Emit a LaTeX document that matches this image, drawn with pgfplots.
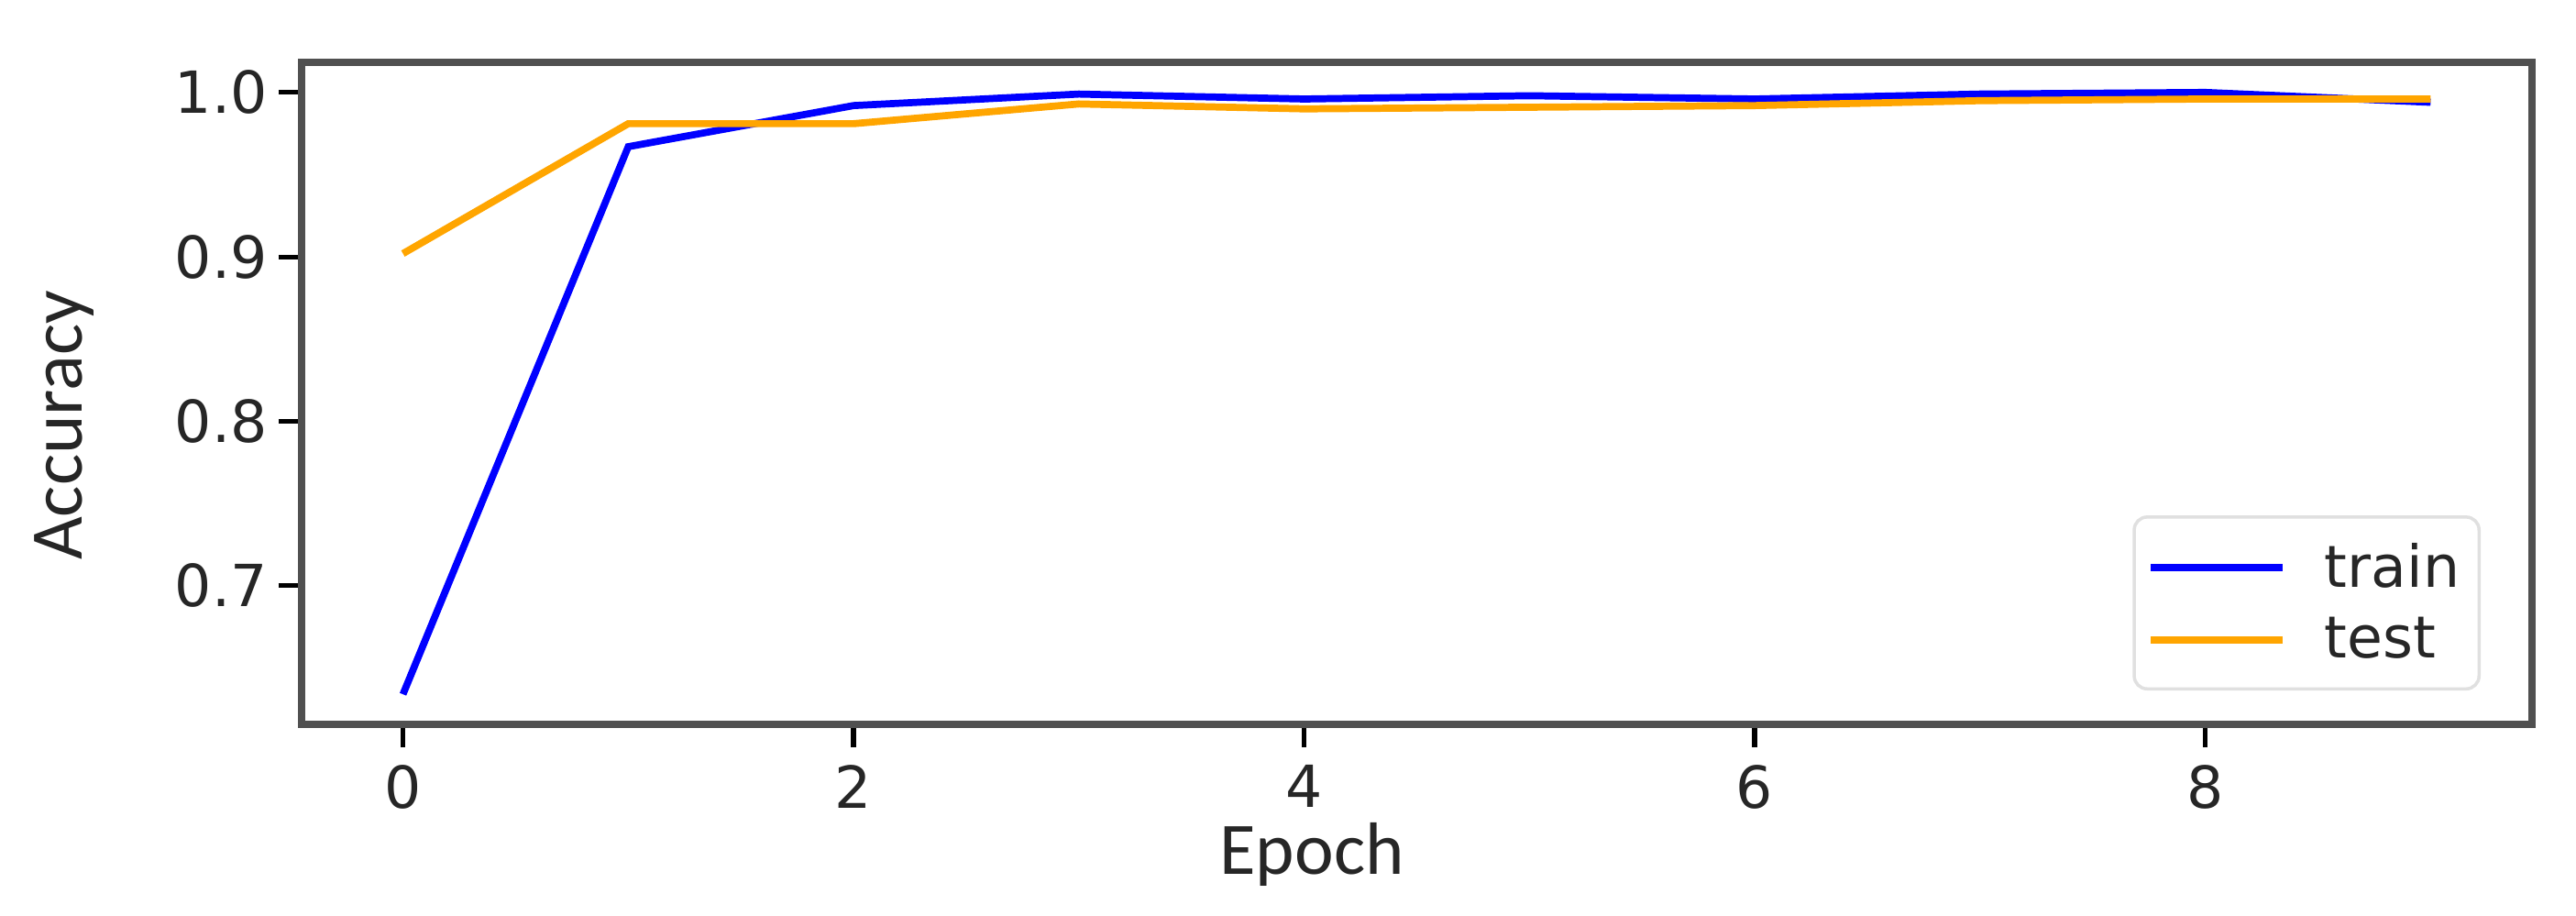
\documentclass[border=0pt]{standalone}
\usepackage{fontspec}
\setmainfont{DejaVu Sans}
\newfontfamily\labelfont{Carlito}
\usepackage{pgfplots}
\pgfplotsset{compat=1.18}
\definecolor{spine}{HTML}{505050}
\definecolor{trainc}{RGB}{0,0,255}
\definecolor{testc}{RGB}{255,165,0}

\begin{document}
\begin{tikzpicture}
\useasboundingbox (-3.29cm,-2.09cm) rectangle (24.81cm,7.90cm);
\begin{axis}[
  at={(0,0)}, anchor=south west,
  scale only axis,
  width=24.33cm, height=7.22cm,
  xmin=-0.45, xmax=9.45,
  ymin=0.6157, ymax=1.0183,
  xtick={0,2,4,6,8},
  ytick={0.7,0.8,0.9,1.0},
  yticklabel style={/pgf/number format/.cd,fixed,fixed zerofill,precision=1},
  /pgf/number format/assume math mode=true,
  tick label style={font=\fontsize{18}{20}\selectfont, text=black!85},
  xticklabel style={inner sep=1pt, yshift=-0.15cm},
  tick align=outside,
  tick pos=left,
  major tick length=0.25cm,
  every tick/.style={black, line width=1.5pt},
  axis line style={draw=spine, line width=2.2pt},
  xlabel={Epoch},
  ylabel={Accuracy},
  label style={font=\labelfont\fontsize{23}{25}\selectfont, text=black!85},
  xlabel style={at={(axis description cs:0.453,0)}, anchor=base, inner sep=0pt, yshift=-1.64cm},
  ylabel style={at={(axis description cs:0,0.4515)}, anchor=base, yshift=2.39cm},
  legend cell align=left,
  legend style={
    at={(axis description cs:0.977,0.0512)}, anchor=south east,
    draw=black!12, line width=1pt, rounded corners=4pt,
    font=\fontsize{18}{20}\selectfont, text=black!85,
    inner xsep=4pt, inner ysep=6pt,
    row sep=4pt,
    /tikz/every odd column/.append style={column sep=0.35cm},
  },
  legend image code/.code={\draw[#1] (0cm,0cm) -- (1.44cm,0cm);},
]
\addplot[trainc, line width=2.2pt] coordinates {
  (0,0.634) (1,0.967) (2,0.992) (3,0.999) (4,0.996) (5,0.998) (6,0.996) (7,0.999) (8,1.000) (9,0.994)
};
\addlegendentry{train}
\addplot[testc, line width=2.2pt] coordinates {
  (0,0.902) (1,0.981) (2,0.981) (3,0.993) (4,0.990) (5,0.991) (6,0.992) (7,0.995) (8,0.996) (9,0.996)
};
\addlegendentry{test}
\end{axis}
\end{tikzpicture}
\end{document}
